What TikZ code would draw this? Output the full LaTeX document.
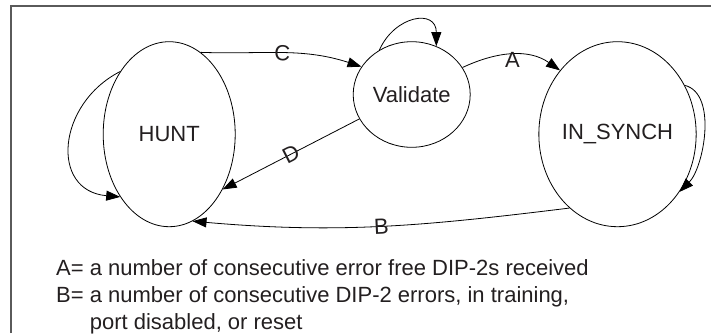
\documentclass[tikz,border=0pt]{standalone}
\usepackage{fontspec}
\setmainfont{Liberation Sans}
\usetikzlibrary{shapes.geometric,arrows.meta}
\definecolor{txt}{HTML}{231F20}
\definecolor{framec}{HTML}{5A5A5A}
\tikzset{
  state/.style={ellipse,draw=black,line width=0.8pt,inner sep=0pt,text=txt,
    font=\fontsize{22}{26}\selectfont},
  trans/.style={draw=black,line width=0.8pt,-{Triangle[length=14pt,width=10pt]}},
  lbl/.style={text=txt,font=\fontsize{22}{26}\selectfont,inner sep=0pt},
  legend/.style={text=txt,font=\fontsize{22}{26}\selectfont,inner sep=0pt,anchor=base west},
  framel/.style={draw=framec,line width=1.5pt}
}
\begin{document}
\begin{tikzpicture}[x=1pt,y=1pt]
\useasboundingbox (0,0) rectangle (711,333);
% frame (top and left edges only)
\coordinate (fr0) at (11,0);
\coordinate (fr1) at (11,327);
\coordinate (fr2) at (711,327);
\draw[framel] (fr0) -- (fr1) -- (fr2);
% states
\node[state,minimum width=132pt,minimum height=185pt] (hunt) at (169.2,198.8) {HUNT};
\node[state,minimum width=117pt,minimum height=105.6pt] (val) at (411.7,238.5) {Validate};
\node[state,minimum width=131.7pt,minimum height=185pt] (sync) at (617.5,198.8) {IN\_SYNCH};
% transitions
\draw[trans] (hunt.69.5) to[out=-2,in=162] node[lbl,pos=.5,sloped] {C} (val.151.4);
\draw[trans] (val.205.1) -- node[lbl,pos=.5,sloped] {D} (hunt.-46.6);
\draw[trans] (val.28.7) to[out=25,in=145] node[lbl,pos=.5,yshift=-5pt] {A} (sync.132);
\draw[trans] (sync.237.1) to[out=187,in=-5] node[lbl,pos=.5,sloped] {B} (hunt.285.4);
% self loops
\draw[trans] (hunt.128.3) to[out=207,in=175,looseness=1.45] (hunt.232.1);
\draw[trans] (val.126.7) to[out=66,in=90,looseness=1.7] (val.63.4);
\draw[trans] (sync.36.7) to[out=-14,in=45,looseness=0.82] (sync.-43.1);
% legend
\node[legend] (legA) at (56,58) {A= a number of consecutive error free DIP-2s received};
\node[legend] (legB) at (56,31) {B= a number of consecutive DIP-2 errors, in training,};
\node[legend] (legC) at (56,4) {\phantom{B= }port disabled, or reset};
\end{tikzpicture}
\end{document}
